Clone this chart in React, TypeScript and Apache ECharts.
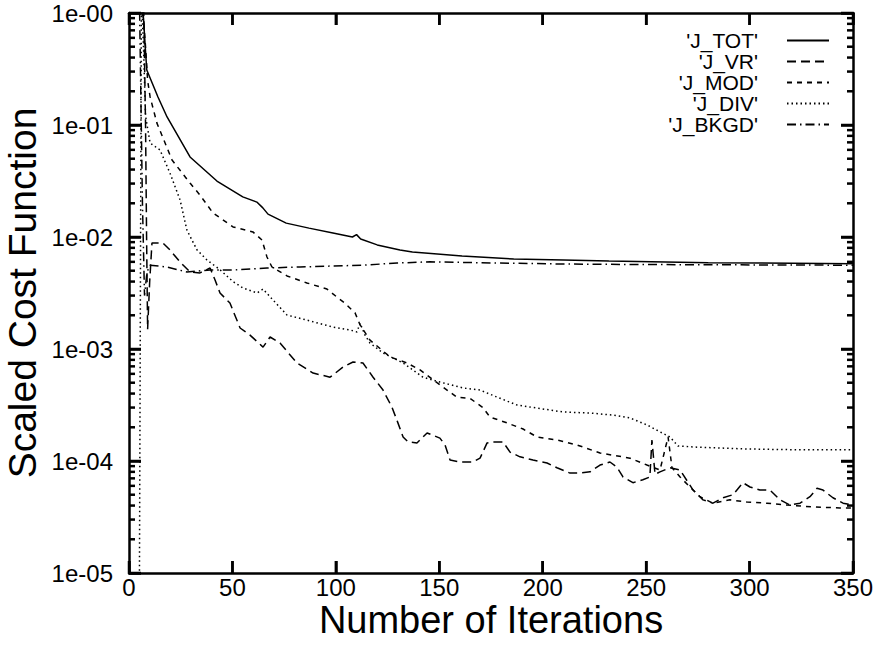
import React, { useEffect, useRef } from "react";
import * as echarts from "echarts";

// [iteration, scaled cost] pairs
const jTot: [number, number][] = [
  [5, 1.5], [7, 0.9], [8, 0.45], [8.6, 0.31], [14, 0.178], [18.4, 0.118], [29.5, 0.0518],
  [42.5, 0.0316], [55, 0.0228], [61.8, 0.0205], [64.7, 0.0182], [67.2, 0.016], [76, 0.0133],
  [87, 0.012], [98.6, 0.01086], [108, 0.01], [110, 0.0105], [112, 0.0096], [120, 0.0085],
  [131, 0.00766], [137, 0.00735], [161, 0.00677], [186, 0.00636], [210, 0.00623],
  [232, 0.0061], [280, 0.0059], [350, 0.00578],
];

const jVr: [number, number][] = [
  [7, 1.5], [8, 0.1], [8.5, 0.01], [9, 0.0015], [10, 0.004], [11.1, 0.00883], [16.4, 0.00883],
  [19.8, 0.00766], [24.7, 0.00598], [29.5, 0.00487], [34.3, 0.00478], [39.2, 0.00529],
  [41.6, 0.00413], [44, 0.00316], [48.8, 0.00257], [53.7, 0.00154], [58.5, 0.00133],
  [64.8, 0.00104], [68.2, 0.00128], [73, 0.00113], [81.2, 0.00075], [89, 0.00061],
  [97.2, 0.00056], [103.5, 0.00069], [108.3, 0.000766], [113.1, 0.00075], [118, 0.00056],
  [122.8, 0.00043], [127.1, 0.000303], [130, 0.000219], [132.5, 0.000164], [134.9, 0.000148],
  [139.2, 0.000145], [144.1, 0.000178], [150.3, 0.00016], [152.8, 0.000139], [155.2, 0.000102],
  [160, 9.8e-5], [166.3, 9.8e-5], [169.7, 0.000106], [173.1, 0.000145], [176, 0.000148],
  [180.8, 0.000148], [184.2, 0.00012], [189, 0.000109], [195.3, 0.000102], [202.1, 9.6e-5],
  [206.9, 8.7e-5], [213.2, 7.8e-5], [218, 7.8e-5], [222.9, 8.0e-5], [227.7, 9.2e-5],
  [232.5, 9.8e-5], [235.9, 8.8e-5], [238.8, 7.2e-5], [243.6, 6.4e-5], [248.4, 6.8e-5],
  [251.8, 7.2e-5], [252.8, 1.54e-4], [254.3, 7.6e-5], [256.7, 8.0e-5], [261.5, 8.7e-5],
  [266.4, 8.3e-5], [272.7, 5.5e-5], [277.5, 4.5e-5], [282.3, 4.2e-5], [287.2, 4.7e-5],
  [292, 5.0e-5], [296.8, 6.4e-5], [300.2, 5.86e-5], [305, 5.5e-5], [309.9, 5.5e-5],
  [314.7, 4.5e-5], [319.5, 4.05e-5], [324.4, 4.2e-5], [329.2, 4.8e-5], [332.6, 5.7e-5],
  [335.5, 5.5e-5], [340.3, 4.7e-5], [345.2, 4.2e-5], [350, 4.05e-5],
];

const jMod: [number, number][] = [
  [6, 1.5], [8, 0.5], [9, 0.25], [10.2, 0.178], [13.5, 0.104], [20.8, 0.0487], [29.5, 0.0303],
  [34.3, 0.0237], [40.6, 0.0164], [50.3, 0.0123], [59.9, 0.0111], [64.3, 0.0094],
  [66.7, 0.00663], [69.1, 0.0054], [76.4, 0.00449], [86, 0.00389], [95.7, 0.00343],
  [98.6, 0.0031], [104.3, 0.00257], [109.3, 0.0021], [111.7, 0.00164], [116.5, 0.0012],
  [126.2, 0.00085], [134.4, 0.00075], [140.7, 0.00065], [148.9, 0.0005], [158.6, 0.00037],
  [164.8, 0.000363], [171.1, 0.0003], [174.5, 0.000247], [182.7, 0.000219], [190.5, 0.000193],
  [197.2, 0.000164], [206.9, 0.000154], [216.6, 0.000139], [227.7, 0.000118],
  [242.2, 0.000106], [250.4, 9.2e-5], [256.7, 8.3e-5], [260.6, 1.64e-4], [262.5, 8.7e-5],
  [266.4, 7.2e-5], [271.2, 5.86e-5], [276, 4.8e-5], [282.3, 4.2e-5], [290.5, 4.5e-5],
  [298.8, 4.3e-5], [308.4, 4.2e-5], [318.1, 4.05e-5], [330.7, 3.89e-5], [343.7, 3.81e-5],
  [350, 3.8e-5],
];

const jDiv: [number, number][] = [
  [5, 5e-6], [6, 1.5], [7, 0.5], [8, 0.12], [10.2, 0.069], [15, 0.0598], [19.8, 0.0372],
  [24.7, 0.0214], [28, 0.0115], [32.9, 0.00766], [37.7, 0.00623], [44, 0.0051], [50.3, 0.004],
  [55.1, 0.0035], [61.9, 0.00316], [64.8, 0.00343], [69.6, 0.00274], [76.4, 0.00201],
  [86, 0.00181], [98.6, 0.00157], [106.8, 0.00148], [110.2, 0.00142], [111.7, 0.0017],
  [114.1, 0.00133], [116.5, 0.00113], [122.8, 0.00092], [132.5, 0.00075], [142.1, 0.00056],
  [150.3, 0.000507], [161.5, 0.000449], [169.7, 0.00043], [177.9, 0.000372], [187.6, 0.000316],
  [197.2, 0.000297], [209.8, 0.000274], [222.9, 0.000268], [234, 0.000257], [242.2, 0.000242],
  [250.4, 0.00021], [256.7, 0.000182], [261.5, 0.000164], [265.4, 0.000136], [274.6, 0.000133],
  [298.8, 0.000128], [322.9, 0.000126], [350, 0.000126],
];

const jBkgd: [number, number][] = [
  [5, 1.5], [6.5, 0.02], [7.5, 0.003], [8.5, 0.0045], [9.5, 0.0054], [10.2, 0.0056],
  [18.4, 0.0054], [28, 0.00487], [39.2, 0.00507], [50.3, 0.00507], [66.7, 0.00529],
  [82.7, 0.0054], [97.2, 0.0055], [113.1, 0.0056], [129.6, 0.00586], [145.5, 0.006],
  [177.9, 0.00586], [209.8, 0.00574], [232.5, 0.0057], [280, 0.00565], [350, 0.0056],
];

const seriesNames = ["'J_TOT'", "'J_VR'", "'J_MOD'", "'J_DIV'", "'J_BKGD'"];
const xTitle = "Number of Iterations";
const yTitle = "Scaled Cost Function";
const xTickValues = [0, 50, 100, 150, 200, 250, 300, 350];
const yMajorValues = [1e-5, 1e-4, 1e-3, 1e-2, 1e-1, 1];
const minorFactors = [2, 3, 4, 5, 6, 7, 8, 9];

const FONT = "Liberation Sans, Arial, Helvetica, sans-serif";
const X_MIN = 0;
const X_MAX = 350;
const Y_MIN = 1e-5;
const Y_MAX = 1;

function logLabel(v: number): string {
  const e = Math.round(Math.log10(v));
  const a = Math.abs(e);
  return "1e" + (e <= 0 ? "-" : "+") + (a < 10 ? "0" + a : String(a));
}

function tickRect(x: number, y: number, width: number, height: number) {
  return {
    type: "rect",
    shape: { x, y, width, height },
    style: { fill: "#000" },
  };
}

export default function App() {
  const ref = useRef<HTMLDivElement>(null);
  useEffect(() => {
    document.body.style.margin = "0";
    if (!ref.current) return;
    const chart = echarts.init(ref.current, undefined, { renderer: "svg" });

    const yMinorValues: number[] = [];
    yMajorValues.slice(0, -1).forEach((d) =>
      minorFactors.forEach((f) => yMinorValues.push(+(d * f).toPrecision(3)))
    );

    const dashes: any[] = ["solid", [9, 5], [5, 5], [1.5, 3], [9, 4, 1.5, 4]];
    const datas = [jTot, jVr, jMod, jDiv, jBkgd];

    const xTickSeries = {
      type: "custom",
      silent: true,
      clip: false,
      z: 5,
      data: xTickValues.map((v) => [v, Y_MIN]),
      encode: { x: 0, y: 1 },
      renderItem: (_p: any, api: any) => {
        const x = api.value(0);
        const b = api.coord([x, Y_MIN]);
        const t = api.coord([x, Y_MAX]);
        return {
          type: "group",
          children: [tickRect(b[0] - 1.25, b[1] - 12, 2.5, 12), tickRect(t[0] - 1.25, t[1], 2.5, 12)],
        };
      },
    };
    const yTickSeries = (values: number[], len: number) => ({
      type: "custom",
      silent: true,
      clip: false,
      z: 5,
      data: values.map((v) => [X_MIN, v]),
      encode: { x: 0, y: 1 },
      renderItem: (_p: any, api: any) => {
        const y = api.value(1);
        const l = api.coord([X_MIN, y]);
        const r = api.coord([X_MAX, y]);
        return {
          type: "group",
          children: [tickRect(l[0], l[1] - 1.25, len, 2.5), tickRect(r[0] - len, r[1] - 1.25, len, 2.5)],
        };
      },
    });

    chart.setOption({
      animation: false,
      backgroundColor: "#fff",
      grid: {
        left: 129,
        right: 21,
        top: 13,
        bottom: 84,
        show: false,
        outerBoundsMode: "none",
        containLabel: false,
      },
      legend: {
        orient: "vertical",
        right: 44,
        top: 30,
        padding: 0,
        align: "right",
        itemWidth: 42,
        itemHeight: 12,
        itemGap: 0,
        selectedMode: false,
        data: seriesNames,
        itemStyle: { opacity: 0 },
        textStyle: {
          fontSize: 21,
          lineHeight: 21,
          fontFamily: FONT,
          color: "#000",
          padding: [0, 24, 0, 0],
        },
      },
      xAxis: [
        {
          type: "value",
          min: X_MIN,
          max: X_MAX,
          interval: 50,
          position: "bottom",
          axisLine: { show: true, onZero: false, lineStyle: { color: "#000", width: 2.5 } },
          axisTick: { show: true, inside: true, length: 12, lineStyle: { color: "#000", width: 2.5 } },
          splitLine: { show: false },
          axisLabel: { color: "#000", fontSize: 24, fontFamily: FONT, margin: 2 },
          name: xTitle,
          nameLocation: "middle",
          nameGap: 32,
          nameMoveOverlap: false,
          nameTextStyle: { color: "#000", fontSize: 38, lineHeight: 30, fontFamily: FONT },
        },
        {
          type: "value",
          min: X_MIN,
          max: X_MAX,
          interval: 50,
          position: "top",
          axisLine: { show: true, onZero: false, lineStyle: { color: "#000", width: 2.5 } },
          axisTick: { show: true, inside: true, length: 12, lineStyle: { color: "#000", width: 2.5 } },
          splitLine: { show: false },
          axisLabel: { show: false },
        },
      ],
      yAxis: [
        {
          type: "log",
          logBase: 10,
          min: Y_MIN,
          max: Y_MAX,
          position: "left",
          axisLine: { show: true, onZero: false, lineStyle: { color: "#000", width: 2.5 } },
          axisTick: { show: true, inside: true, length: 12, lineStyle: { color: "#000", width: 2.5 } },
          minorTick: { show: false },
          splitLine: { show: false },
          axisLabel: { color: "#000", fontSize: 24, fontFamily: FONT, margin: 16, formatter: logLabel },
          name: yTitle,
          nameLocation: "middle",
          nameRotate: 90,
          nameGap: 90,
          nameMoveOverlap: false,
          nameTextStyle: { color: "#000", fontSize: 39, lineHeight: 34, fontFamily: FONT },
        },
        {
          type: "log",
          logBase: 10,
          min: Y_MIN,
          max: Y_MAX,
          position: "right",
          axisLine: { show: true, onZero: false, lineStyle: { color: "#000", width: 2.5 } },
          axisTick: { show: true, inside: true, length: 12, lineStyle: { color: "#000", width: 2.5 } },
          minorTick: { show: false },
          splitLine: { show: false },
          axisLabel: { show: false },
        },
      ],
      series: [
        ...seriesNames.map((name, i) => ({
          name,
          type: "line",
          data: datas[i],
          symbol: "none",
          showSymbol: false,
          clip: true,
          silent: true,
          color: "#000",
          lineStyle: { color: "#000", width: 1.5, type: dashes[i] },
          emphasis: { disabled: true },
        })),
        xTickSeries,
        yTickSeries(yMajorValues, 12),
        yTickSeries(yMinorValues, 6),
      ],
    });
    return () => chart.dispose();
  }, []);
  return <div ref={ref} style={{ width: 874, height: 657 }} />;
}
